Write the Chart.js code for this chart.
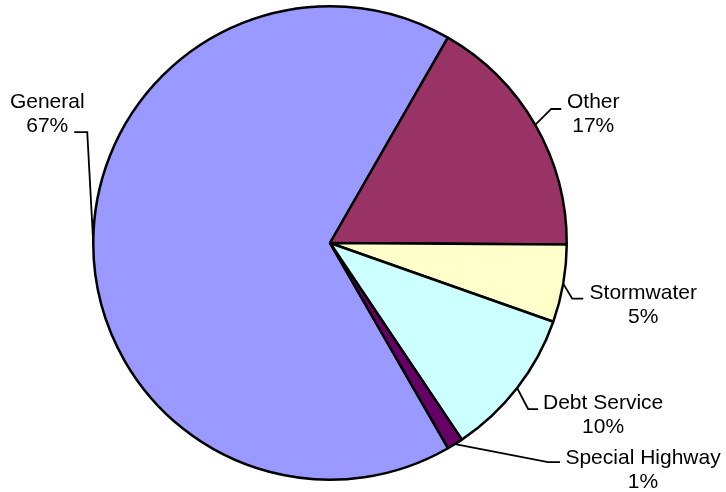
<!DOCTYPE HTML>
<html>
    <head>
        <meta charset="utf-8">
        <title>Budget by fund</title>
        <script src="https://cdn.jsdelivr.net/npm/chart.js@4.4.1/dist/chart.umd.min.js"></script>
        <style>
            html, body { margin: 0; padding: 0; background: #fff; }
            .chartContainer { width: 726px; height: 492px; }
        </style>
    </head>
    <body>
        <div class="chartContainer">
            <canvas id="funds"></canvas>
        </div>
        <script>
            // data (shares in percent)
            const fundNames = ['General', 'Other', 'Stormwater', 'Debt Service', 'Special Highway'];
            const fundShares = [66.6, 16.8, 5.3, 10.2, 1.1];
            const fundColors = ['#9999FF', '#993366', '#FFFFCC', '#CCFFFF', '#660066'];

            // where each callout goes, relative to the slice's outer mid point
            // ex/ey: elbow, hx: horizontal tail, tx/ty: text centre of first line
            const calloutPlacement = [
                { ex: -6, ey: -111, hx: -13, tx: -27, ty: -30 },
                { ex: 16, ey: -16, hx: 10, tx: 32, ty: -7 },
                { ex: 9, ey: 15, hx: 11, tx: 60, ty: -5 },
                { ex: 11, ey: 21, hx: 10, tx: 65, ty: -6 },
                { ex: 93, ey: 18, hx: 12, tx: 83, ty: -4 }
            ];

            const calloutPlugin = {
                id: 'callouts',
                afterDatasetsDraw(chart) {
                    const ctx = chart.ctx;
                    const meta = chart.getDatasetMeta(0);
                    const values = chart.data.datasets[0].data;
                    const total = values.reduce((a, b) => a + b, 0);
                    ctx.save();
                    ctx.strokeStyle = '#000';
                    ctx.lineWidth = 1.8;
                    ctx.fillStyle = '#000';
                    ctx.font = '21px "Liberation Sans", Arial, sans-serif';
                    ctx.textAlign = 'center';
                    ctx.textBaseline = 'middle';
                    meta.data.forEach(function(arc, i) {
                        const p = arc.getProps(['x', 'y', 'startAngle', 'endAngle', 'outerRadius'], true);
                        const mid = (p.startAngle + p.endAngle) / 2;
                        const ax = p.x + Math.cos(mid) * p.outerRadius;
                        const ay = p.y + Math.sin(mid) * p.outerRadius;
                        const pl = calloutPlacement[i];
                        const exx = ax + pl.ex, eyy = ay + pl.ey;
                        const hxx = exx + pl.hx;
                        ctx.beginPath();
                        ctx.moveTo(ax, ay);
                        ctx.lineTo(exx, eyy);
                        ctx.lineTo(hxx, eyy);
                        ctx.stroke();
                        const pct = Math.round(values[i] / total * 100) + '%';
                        ctx.fillText(chart.data.labels[i], hxx + pl.tx, eyy + pl.ty);
                        ctx.fillText(pct, hxx + pl.tx, eyy + pl.ty + 24);
                    });
                    ctx.restore();
                }
            };

            const fundCanvas = document.getElementById('funds').getContext('2d');
            const fundChart = new Chart(fundCanvas, {
                type: 'pie',
                data: {
                    labels: fundNames,
                    datasets: [
                        {
                            data: fundShares,
                            backgroundColor: fundColors,
                            borderColor: '#000',
                            borderWidth: 2.5
                        }
                    ]
                },
                options: {
                    animation: false,
                    responsive: true,
                    maintainAspectRatio: false,
                    rotation: 150.1,
                    layout: {
                        padding: { left: 0, right: 66, top: 5, bottom: 11 }
                    },
                    plugins: {
                        legend: false,
                        tooltip: { enabled: false }
                    }
                },
                plugins: [calloutPlugin]
            });
        </script>
    </body>
</html>
